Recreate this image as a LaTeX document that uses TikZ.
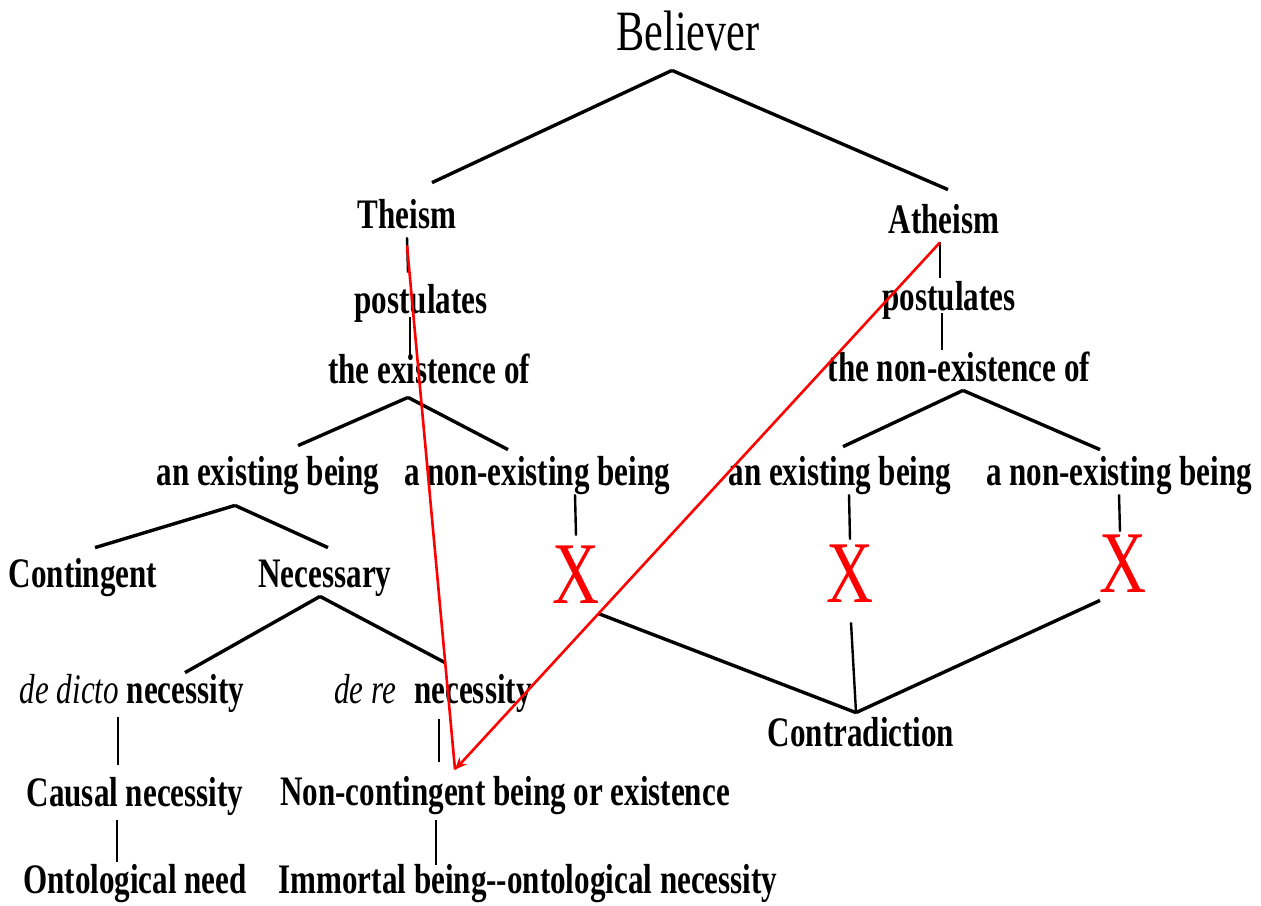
\documentclass[tikz,border=0pt]{standalone}
\usepackage{fontspec}
\setmainfont{Liberation Serif}[FakeStretch=0.74]
\usetikzlibrary{arrows.meta}

\begin{document}
\begin{tikzpicture}[x=0.5pt,y=-0.5pt,
  every node/.style={inner sep=0pt,anchor=base},
  term/.style={font=\fontsize{21}{24}\selectfont\bfseries,text height=14.5pt,text depth=4.5pt},
  cross/.style={font=\fontsize{44}{48}\selectfont,text=red,text height=29pt,text depth=0pt},
  branch/.style={line width=1.7pt},
  stem/.style={line width=1.2pt},
  link/.style={draw=red,line width=1.3pt}]
  \useasboundingbox (0,0) rectangle (1261,905);
  \node[font=\fontsize{28.5}{32}\selectfont,text height=19.5pt,text depth=6pt] (bel) at (688,50) {Believer};
  \node[term] (th) at (407,228) {Theism};
  \node[term] (ath) at (944,233) {Atheism};
  \node[term] (postl) at (421,313) {postulates};
  \node[term] (exl) at (429,383) {the existence of};
  \node[term] (postr) at (949,310) {postulates};
  \node[term] (exr) at (959,381) {the non-existence of};
  \node[term] (ebl) at (268,485) {an existing being};
  \node[term] (nebl) at (537,485) {a non-existing being};
  \node[term] (ebr) at (840,485) {an existing being};
  \node[term] (nebr) at (1119,485) {a non-existing being};
  \node[term] (cont) at (83,587) {Contingent};
  \node[term] (nec) at (325,587) {Necessary};
  \node[cross] (xl) at (576,603) {X};
  \node[cross] (xm) at (850,602) {X};
  \node[cross] (xr) at (1123,592) {X};
  \node[term] (dd) at (132,703) {{\mdseries\itshape de dicto} necessity};
  \node[term] (dr) at (433,703) {{\mdseries\itshape de re}\hspace{9pt}necessity};
  \node[term] (contra) at (861,746) {Contradiction};
  \node[term] (caus) at (135,806) {Causal necessity};
  \node[term] (ncb) at (505,805) {Non-contingent being or existence};
  \node[term] (ont) at (135,893) {Ontological need};
  \node[term] (imm) at (528,893) {Immortal being-{}-ontological necessity};
  \draw[branch] ([xshift=-8pt,yshift=-4pt]bel.south) -- ([xshift=12.5pt,yshift=8pt]th.north);
  \draw[branch] ([xshift=-8pt,yshift=-4pt]bel.south) -- ([xshift=2pt,yshift=7pt]ath.north);
  \draw[stem] (th.south) -- ([xshift=-6.5pt,yshift=5.5pt]postl.north);
  \draw[stem] ([xshift=-5.5pt,yshift=2.5pt]postl.south) -- ([xshift=-9.5pt,yshift=-1.5pt]exl.north);
  \draw[stem] ([xshift=-2pt]ath.south) -- ([xshift=-4.5pt,yshift=1.5pt]postr.north);
  \draw[stem] ([xshift=-3.5pt,yshift=3pt]postr.south) -- ([xshift=-8.5pt,yshift=1pt]exr.north);
  \draw[branch] ([xshift=-10.5pt,yshift=-2.5pt]exl.south) -- ([xshift=15pt,yshift=5pt]ebl.north);
  \draw[branch] ([xshift=-10.5pt,yshift=-2.5pt]exl.south) -- ([xshift=-14.5pt,yshift=3pt]nebl.north);
  \draw[branch] ([xshift=2pt]exr.south) -- ([xshift=1.5pt,yshift=4.5pt]ebr.north);
  \draw[branch] ([xshift=2pt]exr.south) -- ([xshift=-9.5pt,yshift=3pt]nebr.north);
  \draw[stem] ([xshift=19pt]nebl.south) -- ([yshift=4.5pt]xl.north);
  \draw[stem] ([xshift=4.5pt]ebr.south) -- ([yshift=2pt]xm.north);
  \draw[stem] (nebr.south) -- ([xshift=-1.5pt,yshift=1pt]xr.north);
  \draw[branch] ([xshift=-16.5pt,yshift=-5.5pt]ebl.south) -- ([xshift=6pt,yshift=5pt]cont.north);
  \draw[branch] ([xshift=-16.5pt,yshift=-5.5pt]ebl.south) -- ([xshift=1.5pt,yshift=5pt]nec.north);
  \draw[branch] ([xshift=-2.5pt]nec.south) -- ([xshift=26.5pt,yshift=0.5pt]dd.north);
  \draw[branch] ([xshift=-2.5pt]nec.south) -- ([xshift=6pt,yshift=5.5pt]dr.north);
  \draw[stem] ([xshift=-7pt,yshift=-2.5pt]dd.south) -- ([xshift=-8.5pt,yshift=6pt]caus.north);
  \draw[stem] ([xshift=-9pt,yshift=-2.5pt]caus.south) -- ([xshift=-9pt,yshift=1pt]ont.north);
  \draw[stem] ([xshift=3pt,yshift=-3.5pt]dr.south) -- ([xshift=-33pt,yshift=7pt]ncb.north);
  \draw[stem] ([xshift=-34.5pt,yshift=-3pt]ncb.south) -- ([xshift=-46pt,yshift=-0.5pt]imm.north);
  \draw[branch] ([xshift=11pt,yshift=-5pt]xl.south) -- ([xshift=-2.5pt,yshift=2pt]contra.north);
  \draw[stem] ([xshift=0.5pt,yshift=-10pt]xm.south) -- ([xshift=-2.5pt,yshift=2pt]contra.north);
  \draw[branch] ([xshift=-11.5pt,yshift=-4pt]xr.south) -- ([xshift=-2.5pt,yshift=2pt]contra.north);
  \draw[link] ([yshift=-4pt]th.south) -- ([xshift=-25pt,yshift=3pt]ncb.north);
  \draw[link,-{Stealth[length=6pt,width=5pt]}] ([xshift=-2pt]ath.south) -- ([xshift=-25pt,yshift=3pt]ncb.north);
\end{tikzpicture}
\end{document}
